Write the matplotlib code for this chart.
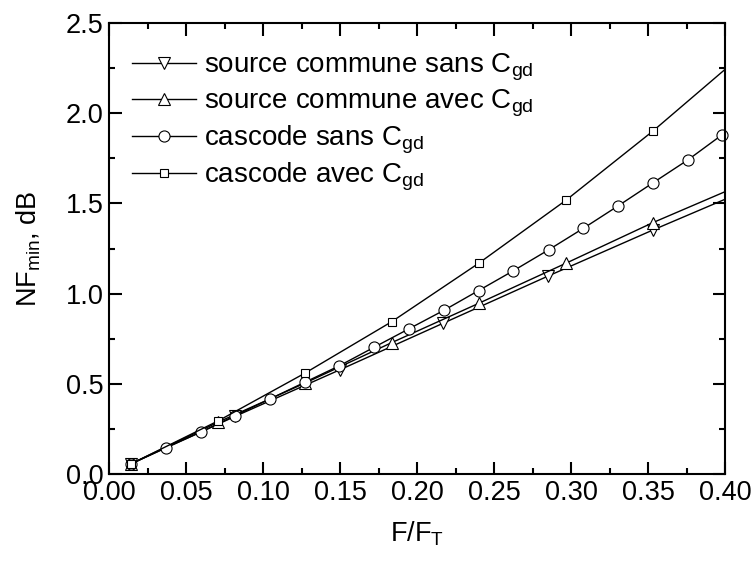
import matplotlib

matplotlib.use("Agg")
import matplotlib.pyplot as plt
from matplotlib.ticker import MultipleLocator

plt.rcParams["font.family"] = ["Liberation Sans", "DejaVu Sans"]
plt.rcParams["mathtext.fontset"] = "custom"
plt.rcParams["mathtext.rm"] = "Liberation Sans"
plt.rcParams["mathtext.it"] = "Liberation Sans"

# values (last point of each line = curve end at x=0.40)
x_cs_sans = [0.014, 0.082, 0.150, 0.217, 0.285, 0.353, 0.400]
y_cs_sans = [0.055, 0.32, 0.578, 0.836, 1.097, 1.352, 1.523]

x_cs_avec = [0.014, 0.071, 0.127, 0.1835, 0.240, 0.2966, 0.353, 0.400]
y_cs_avec = [0.055, 0.288, 0.503, 0.728, 0.946, 1.168, 1.393, 1.565]

x_casc_sans = [0.014, 0.0368, 0.060, 0.0818, 0.1045, 0.127, 0.1496, 0.172, 0.195,
               0.2178, 0.240, 0.2626, 0.2855, 0.308, 0.3305, 0.353, 0.376, 0.398]
y_casc_sans = [0.055, 0.146, 0.234, 0.323, 0.416, 0.508, 0.600, 0.702, 0.806,
               0.909, 1.017, 1.127, 1.243, 1.362, 1.486, 1.613, 1.742, 1.88]

x_casc_avec = [0.014, 0.071, 0.127, 0.1835, 0.240, 0.2966, 0.353, 0.400]
y_casc_avec = [0.055, 0.295, 0.558, 0.844, 1.168, 1.517, 1.90, 2.243]

labels = [
    r"source commune sans C$_{\mathrm{gd}}$",
    r"source commune avec C$_{\mathrm{gd}}$",
    r"cascode sans C$_{\mathrm{gd}}$",
    r"cascode avec C$_{\mathrm{gd}}$",
]

fig = plt.figure(figsize=(7.54, 5.62), dpi=100)
ax = fig.add_axes([0.1446, 0.1566, 0.817, 0.8024])

style = dict(color="black", lw=1.0, mfc="white", mec="black", mew=0.8, clip_on=False)
ax.plot(x_cs_sans, y_cs_sans, marker="v", ms=8, markevery=slice(0, 6), label=labels[0], **style)
ax.plot(x_cs_avec, y_cs_avec, marker="^", ms=8, markevery=slice(0, 7), label=labels[1], **style)
ax.plot(x_casc_sans, y_casc_sans, marker="o", ms=8, label=labels[2], **style)
ax.plot(x_casc_avec, y_casc_avec, marker="s", ms=6, markevery=slice(0, 7), label=labels[3], **style)

ax.set_xlim(0, 0.40)
ax.set_ylim(0, 2.5)
ax.xaxis.set_major_locator(MultipleLocator(0.05))
ax.xaxis.set_minor_locator(MultipleLocator(0.025))
ax.yaxis.set_major_locator(MultipleLocator(0.5))
ax.yaxis.set_minor_locator(MultipleLocator(0.25))
ax.xaxis.set_major_formatter(plt.FormatStrFormatter("%.2f"))
ax.yaxis.set_major_formatter(plt.FormatStrFormatter("%.1f"))

ax.tick_params(which="both", direction="in", top=True, right=True, width=1.5,
               labelsize=19.5)
ax.tick_params(which="major", length=9, pad=4)
ax.tick_params(which="minor", length=4.5)
for sp in ax.spines.values():
    sp.set_linewidth(1.5)

ax.set_xlabel(r"F/F$_{\mathrm{T}}$", fontsize=19.5, labelpad=10)
ax.set_ylabel(r"NF$_{\mathrm{min}}$, dB", fontsize=19.5, labelpad=16)

ax.legend(loc="upper left", frameon=False, fontsize=20, handlelength=2.3,
          handletextpad=0.3, labelspacing=0.17, borderpad=0, borderaxespad=0,
          bbox_to_anchor=(0.037, 0.937))

fig.savefig("out.png", dpi=100)
